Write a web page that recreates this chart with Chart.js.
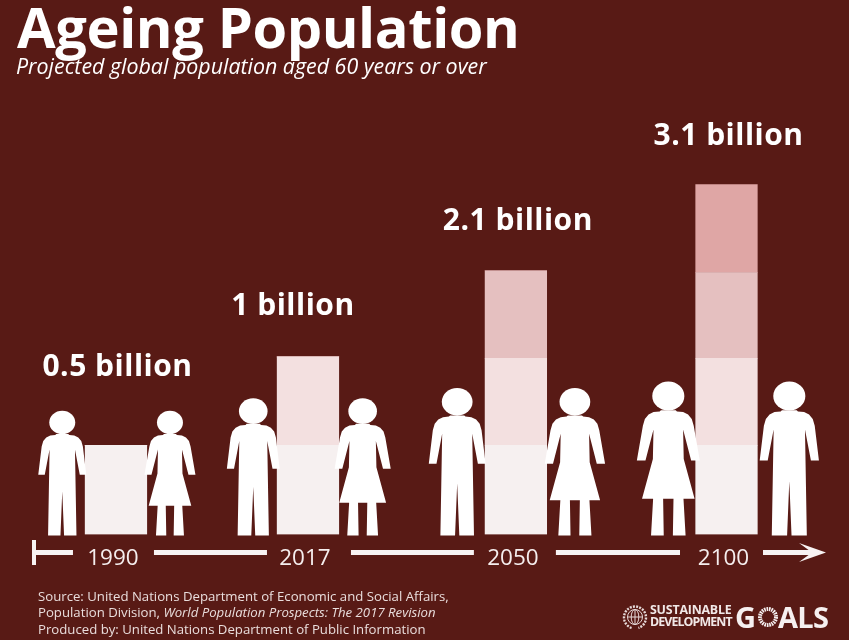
<!DOCTYPE html>
<html>
<head>
<meta charset="utf-8">
<title>Ageing Population</title>
<script src="https://cdn.jsdelivr.net/npm/chart.js@4/dist/chart.umd.min.js"></script>
<style>
  html, body { margin: 0; padding: 0; background: #581a15; }
  #wrap { position: relative; width: 849px; height: 640px; overflow: hidden; background: #581a15; font-family: "Open Sans", sans-serif; color: #fff; }
  canvas { position: absolute; left: 0; top: 0; }
  .txt { position: absolute; white-space: nowrap; }
  #heading { left: 17px; top: -12px; font-size: 56px; font-weight: 700; letter-spacing: -0.4px; line-height: 76px; }
  #sub { left: 16px; top: 52px; font-size: 21.4px; font-style: italic; line-height: 27px; }
  #source { left: 38px; top: 588px; font-size: 13.2px; line-height: 16.3px; color: #e9dddc; }
  #logo1 { left: 650px; top: 604px; font-size: 12.4px; font-weight: 700; line-height: 11.5px; color: #f1e8e7; }
  #logo2 { left: 735px; top: 597px; font-size: 29px; font-weight: 700; line-height: 40px; letter-spacing: -0.6px; color: #f6f0f0; }
  #logo2 i { font-style: normal; color: transparent; }
</style>
</head>
<body>
<div id="wrap">
  <canvas id="chart" width="849" height="640"></canvas>
  <div class="txt" id="heading">Ageing Population</div>
  <div class="txt" id="sub">Projected global population aged 60 years or over</div>
  <div class="txt" id="source">Source: United Nations Department of Economic and Social Affairs,<br>Population Division, <em>World Population Prospects: The 2017 Revision</em><br>Produced by: United Nations Department of Public Information</div>
  <div class="txt" id="logo1"><span style="letter-spacing:-0.2px">SUSTAINABLE</span><br><span style="letter-spacing:-0.9px">DEVELOPMENT</span></div>
  <div class="txt" id="logo2">G<i>O</i>ALS</div>
</div>
<script>
const years = ['1990', '2017', '2050', '2100'];
// spacing of the stops along the timeline arrow
const timelineStops = [0, 1, 2.083, 3.18];
const totals = ['0.5 billion', '1 billion', '2.1 billion', '3.1 billion'];

// the picture stacks equal blocks, it is not drawn to scale
const block1 = [1.02, 1.02, 1.02, 1.02];
const block2 = [0, 1.01, 0.995, 0.995];
const block3 = [0, 0, 1, 0.98];
const block4 = [0, 0, 0, 1.005];

const LINE = '#f8f3f3';

// man and woman outlines, right half only, feet at y=0
const shoulder = [[0, -101.5], [6, -101.5], [7, -100.5], [12, -100], [16, -98], [19, -94.5], [20.6, -89]];
const manHalf = shoulder.concat([[24, -60.7], [17.5, -60.7], [12.7, -86], [14.2, 0], [1.8, 0], [0, -44]]);
const womanHalf = shoulder.concat([[25.5, -60.7], [18.5, -60.7], [12, -86], [12.5, -62], [21.3, -29.7], [12.3, -29.7], [14, 0], [3.7, 0], [4.2, -29.7], [0, -29.7]]);

// which figure stands where: stop index, kind, offset from the bar, scale
const figures = [
  [0, 'm', -53.7, 1], [0, 'w', 54, 1],
  [1, 'm', -54.7, 1.1], [1, 'w', 54.7, 1.1],
  [2, 'm', -58.7, 1.183], [2, 'w', 59, 1.183],
  [3, 'w', -58.2, 1.234], [3, 'm', 62.8, 1.234]
];

function drawFigure(ctx, kind, x, y, s) {
  const half = kind === 'm' ? manHalf : womanHalf;
  ctx.save();
  ctx.translate(x, y);
  ctx.scale(s, s);
  ctx.fillStyle = '#fff';
  ctx.beginPath();
  ctx.ellipse(0, -113, 13, 11.7, 0, 0, Math.PI * 2);
  ctx.fill();
  ctx.beginPath();
  half.forEach((p, i) => i ? ctx.lineTo(p[0], p[1]) : ctx.moveTo(p[0], p[1]));
  half.slice().reverse().forEach(p => ctx.lineTo(-p[0], p[1]));
  ctx.closePath();
  ctx.fill();
  ctx.restore();
}

const peoplePlugin = {
  id: 'people',
  afterDatasetsDraw(chart) {
    const { ctx, scales } = chart;
    figures.forEach(f => {
      drawFigure(ctx, f[1], scales.x.getPixelForValue(timelineStops[f[0]]) + f[2], scales.y.getPixelForValue(0) + 1, f[3]);
    });
  }
};

// totals above the bars
const labelShift = [[1.5, -69], [-15, -42], [2, -41], [2, -40]];
const totalsPlugin = {
  id: 'totals',
  afterDatasetsDraw(chart) {
    const { ctx, scales } = chart;
    ctx.save();
    ctx.fillStyle = '#fff';
    ctx.font = '700 30px "Open Sans"';
    ctx.letterSpacing = '0.5px';
    ctx.textAlign = 'center';
    ctx.textBaseline = 'alphabetic';
    totals.forEach((t, i) => {
      const top = block1[i] + block2[i] + block3[i] + block4[i];
      ctx.fillText(t, scales.x.getPixelForValue(timelineStops[i]) + labelShift[i][0], scales.y.getPixelForValue(top) + labelShift[i][1]);
    });
    ctx.restore();
  }
};

// timeline broken around the year labels, with end stop and arrow head
const gapBefore = [43, 41, 42, 46.5];
const gapAfter = [38, 43, 40, 36.5];
const timelinePlugin = {
  id: 'timeline',
  afterDraw(chart) {
    const { ctx, scales } = chart;
    const y = 552.5;
    const xs = timelineStops.map(v => scales.x.getPixelForValue(v));
    ctx.save();
    ctx.fillStyle = LINE;
    ctx.fillRect(32, 540, 4, 25);
    ctx.fillRect(36, y - 2.5, xs[0] - gapBefore[0] - 36, 5);
    for (let i = 0; i < 3; i++) {
      const from = xs[i] + gapAfter[i];
      ctx.fillRect(from, y - 2.5, xs[i + 1] - gapBefore[i + 1] - from, 5);
    }
    ctx.fillRect(xs[3] + gapAfter[3], y - 2.5, 812 - xs[3] - gapAfter[3], 5);
    ctx.beginPath();
    ctx.moveTo(826, y);
    ctx.lineTo(799, 543);
    ctx.lineTo(812, y);
    ctx.lineTo(799, 562);
    ctx.closePath();
    ctx.fill();
    ctx.restore();
  }
};

// UN emblem and the ring of the O in GOALS
const logoPlugin = {
  id: 'logo',
  afterDraw(chart) {
    const ctx = chart.ctx;
    ctx.save();
    ctx.strokeStyle = '#e6d9d8';
    ctx.lineWidth = 1;
    const cx = 635, cy = 617;
    ctx.beginPath();
    ctx.arc(cx, cy, 7.5, 0, Math.PI * 2);
    ctx.moveTo(cx - 7.5, cy);
    ctx.lineTo(cx + 7.5, cy);
    ctx.moveTo(cx, cy - 7.5);
    ctx.lineTo(cx, cy + 7.5);
    ctx.stroke();
    ctx.beginPath();
    ctx.ellipse(cx, cy, 3.8, 7.5, 0, 0, Math.PI * 2);
    ctx.stroke();
    ctx.lineWidth = 2.4;
    ctx.setLineDash([2, 1.2]);
    ctx.beginPath();
    ctx.arc(cx, cy + 0.5, 11, Math.PI * 0.6, Math.PI * 2.4, false);
    ctx.stroke();
    ctx.lineWidth = 4;
    ctx.setLineDash([1.6, 0.8]);
    ctx.strokeStyle = '#f6f0f0';
    ctx.beginPath();
    ctx.arc(768, 617, 8, 0, Math.PI * 2);
    ctx.stroke();
    ctx.restore();
  }
};

new Chart(document.getElementById('chart'), {
  type: 'bar',
  data: {
    datasets: [
      { label: 'Block 1', data: block1.map((v, i) => ({ x: timelineStops[i], y: v })), backgroundColor: '#f6f0f0' },
      { label: 'Block 2', data: block2.map((v, i) => ({ x: timelineStops[i], y: v })), backgroundColor: '#f3e0e0' },
      { label: 'Block 3', data: block3.map((v, i) => ({ x: timelineStops[i], y: v })), backgroundColor: '#e5c0c0' },
      { label: 'Block 4', data: block4.map((v, i) => ({ x: timelineStops[i], y: v })), backgroundColor: '#dfa6a5' }
    ]
  },
  options: {
    responsive: false,
    animation: false,
    barThickness: 61.6,
    layout: { padding: 0 },
    plugins: { legend: { display: false }, title: { display: false }, tooltip: { enabled: false } },
    scales: {
      x: {
        type: 'linear',
        stacked: true,
        offset: false,
        min: -0.604,
        max: 3.818,
        afterBuildTicks: scale => { scale.ticks = timelineStops.map(v => ({ value: v })); },
        afterFit: scale => { scale.height = 105.5; },
        grid: { display: false, offset: false },
        border: { display: false },
        ticks: {
          callback: value => years[timelineStops.indexOf(value)],
          autoSkip: false,
          maxRotation: 0,
          labelOffset: -3,
          padding: 3,
          color: '#f5eeee',
          font: { family: 'Open Sans', size: 22.5 }
        }
      },
      y: {
        display: false,
        stacked: true,
        min: 0,
        max: 6.11
      }
    }
  },
  plugins: [peoplePlugin, totalsPlugin, timelinePlugin, logoPlugin]
});
</script>
</body>
</html>
